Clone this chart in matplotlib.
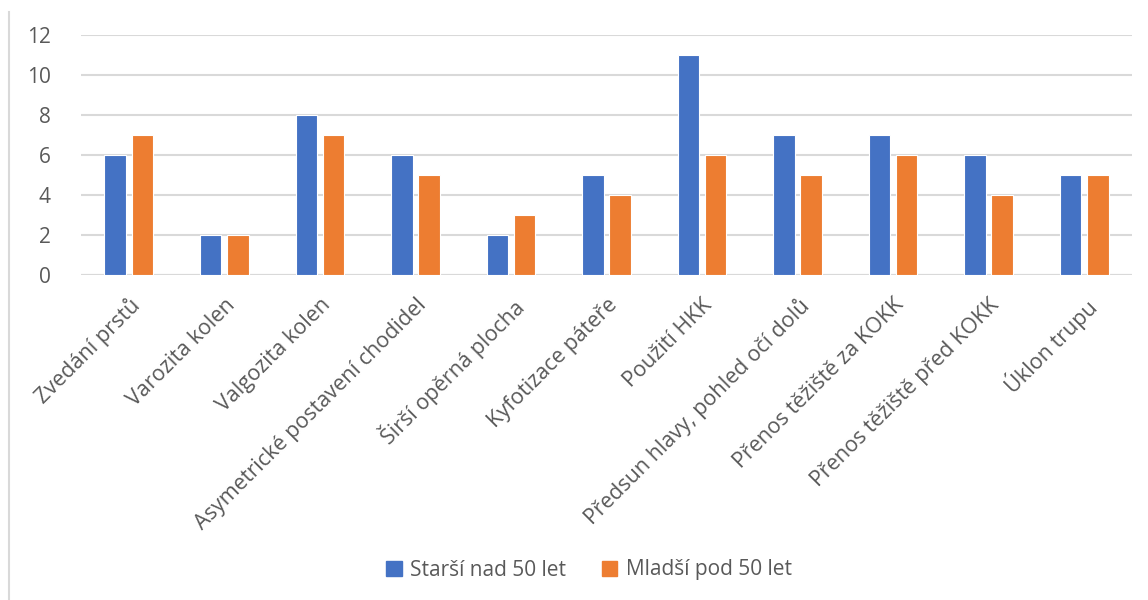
import matplotlib
matplotlib.use("Agg")
import matplotlib.pyplot as plt
import numpy as np
from matplotlib.lines import Line2D

categories = [
    "Zvedání prstů",
    "Varozita kolen",
    "Valgozita kolen",
    "Asymetrické postavení chodidel",
    "Širší opěrná plocha",
    "Kyfotizace páteře",
    "Použití HKK",
    "Předsun hlavy, pohled očí dolů",
    "Přenos těžiště za KOKK",
    "Přenos těžiště před KOKK",
    "Úklon trupu",
]
starsi = [6, 2, 8, 6, 2, 5, 11, 7, 7, 6, 5]
mladsi = [7, 2, 7, 5, 3, 4, 6, 5, 6, 4, 5]
series_names = ["Starší nad 50 let", "Mladší pod 50 let"]
y_ticks = [0, 2, 4, 6, 8, 10, 12]

BLUE = "#4472C4"
ORANGE = "#ED7D31"
TEXT = "#595959"
GRID = "#D9D9D9"

plt.rcParams["font.family"] = ["Open Sans", "DejaVu Sans"]

fig = plt.figure(figsize=(11.48, 6.0), dpi=100)
ax = fig.add_axes([0.0706, 0.5417, 0.9154, 0.4])

x = np.arange(len(categories))
w = 0.225
gap = 0.06
ax.bar(x - (w + gap) / 2, starsi, width=w, color=BLUE, edgecolor="white",
       linewidth=0.8, label=series_names[0], zorder=3)
ax.bar(x + (w + gap) / 2, mladsi, width=w, color=ORANGE, edgecolor="white",
       linewidth=0.8, label=series_names[1], zorder=3)

ax.set_xlim(-0.5, len(categories) - 0.5)
ax.set_ylim(0, 12)
ax.set_yticks(y_ticks)
ax.yaxis.grid(True, color=GRID, linewidth=1.5, zorder=0)
ax.set_axisbelow(True)
for s in ax.spines.values():
    s.set_visible(False)
ax.axhline(0, color=GRID, linewidth=1.5, zorder=2)
ax.tick_params(axis="y", length=0, pad=22, labelsize=15, labelcolor=TEXT)
ax.tick_params(axis="x", length=0, pad=14, labelsize=15.5, labelcolor=TEXT)
ax.set_xticks(x)
ax.set_xticklabels(categories, rotation=45, ha="right", va="top",
                   rotation_mode="anchor")

handles = [
    plt.Rectangle((0, 0), 1, 1, color=BLUE),
    plt.Rectangle((0, 0), 1, 1, color=ORANGE),
]
fig.legend(handles, series_names, loc="center", bbox_to_anchor=(0.513, 0.05),
           ncol=2, frameon=False, fontsize=15, labelcolor=TEXT,
           handlelength=0.75, handleheight=0.75, handletextpad=0.4,
           columnspacing=1.7)

fig.add_artist(Line2D([0.0075, 0.0075], [0.0, 0.98], color=GRID,
                      linewidth=1.5, transform=fig.transFigure))

fig.savefig("out.png", dpi=100, facecolor="white")
